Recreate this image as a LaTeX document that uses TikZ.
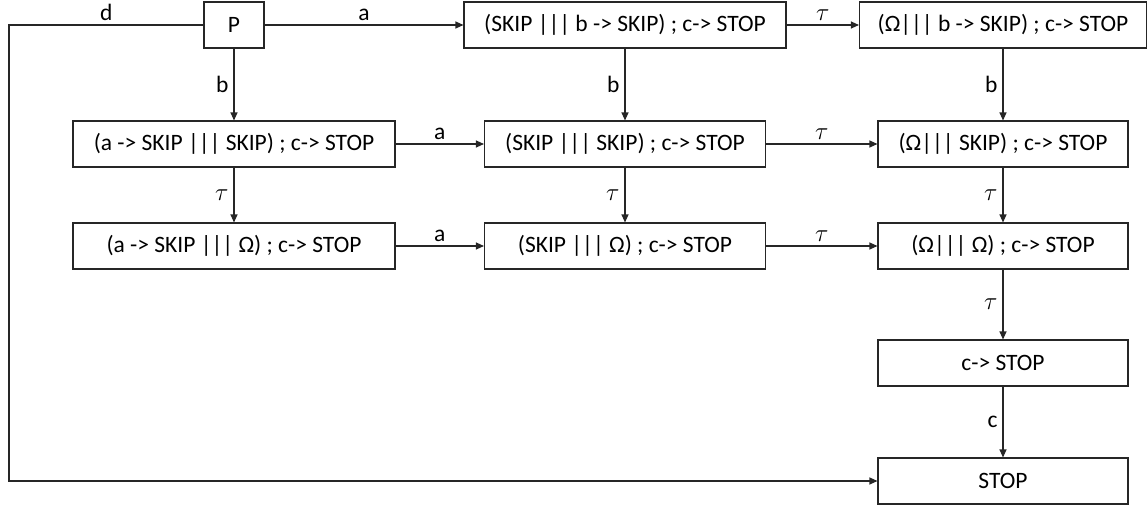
\documentclass[tikz,border=0pt]{standalone}
\usepackage{fontspec}
\setmainfont{Carlito}
\usetikzlibrary{arrows.meta}

\tikzset{
    state/.style={draw=black!85,line width=1.1pt,minimum height=46pt,inner sep=0pt,font=\fontsize{23.5}{28}\selectfont},
    trans/.style={draw=black!85,line width=1.1pt,-{Triangle[length=8pt,width=7pt]}},
    lbl/.style={inner sep=2pt,font=\fontsize{23.5}{28}\selectfont}
}

\begin{document}
\begin{tikzpicture}[x=1pt,y=-1pt]
    \useasboundingbox (0,0) rectangle (1148,506);
    % states
    \node[state,minimum width=60] (P) at (234,25) {P};
    \node[state,minimum width=322] (SkipB) at (625,25) {(SKIP ||| b -> SKIP) ; c-> STOP};
    \node[state,minimum width=287] (OmB) at (1003,25) {(Ω||| b -> SKIP) ; c-> STOP};
    \node[state,minimum width=322] (ASkip) at (234,144) {(a -> SKIP ||| SKIP) ; c-> STOP};
    \node[state,minimum width=281] (SkipSkip) at (625,144) {(SKIP ||| SKIP) ; c-> STOP};
    \node[state,minimum width=250] (OmSkip) at (1003,144) {(Ω||| SKIP) ; c-> STOP};
    \node[state,minimum width=322] (AOm) at (234,246) {(a -> SKIP ||| Ω) ; c-> STOP};
    \node[state,minimum width=281] (SkipOm) at (625,246) {(SKIP ||| Ω) ; c-> STOP};
    \node[state,minimum width=250] (OmOm) at (1003,246) {(Ω||| Ω) ; c-> STOP};
    \node[state,minimum width=250] (CStop) at (1003,363) {c-> STOP};
    \node[state,minimum width=250] (Stop) at (1003,481) {STOP};
    \coordinate (dturn) at (9,25);
    % transitions
    \draw[trans] (P) -- node[lbl,above=2pt] {a} (SkipB);
    \draw[trans] (SkipB) -- node[lbl,above=2pt] {$\tau$} (OmB);
    \draw[trans] (P) -- node[lbl,left=3pt] {b} (ASkip);
    \draw[trans] (SkipB) -- node[lbl,left=3pt] {b} (SkipSkip);
    \draw[trans] (OmB) -- node[lbl,left=3pt] {b} (OmSkip);
    \draw[trans] (ASkip) -- node[lbl,above=2pt] {a} (SkipSkip);
    \draw[trans] (SkipSkip) -- node[lbl,above=2pt] {$\tau$} (OmSkip);
    \draw[trans] (ASkip) -- node[lbl,left=3pt] {$\tau$} (AOm);
    \draw[trans] (SkipSkip) -- node[lbl,left=3pt] {$\tau$} (SkipOm);
    \draw[trans] (OmSkip) -- node[lbl,left=3pt] {$\tau$} (OmOm);
    \draw[trans] (AOm) -- node[lbl,above=2pt] {a} (SkipOm);
    \draw[trans] (SkipOm) -- node[lbl,above=2pt] {$\tau$} (OmOm);
    \draw[trans] (OmOm) -- node[lbl,left=3pt] {$\tau$} (CStop);
    \draw[trans] (CStop) -- node[lbl,left=3pt] {c} (Stop);
    \draw[trans] (P.west) -- node[lbl,above=2pt] {d} (dturn) |- (Stop.west);
\end{tikzpicture}
\end{document}
